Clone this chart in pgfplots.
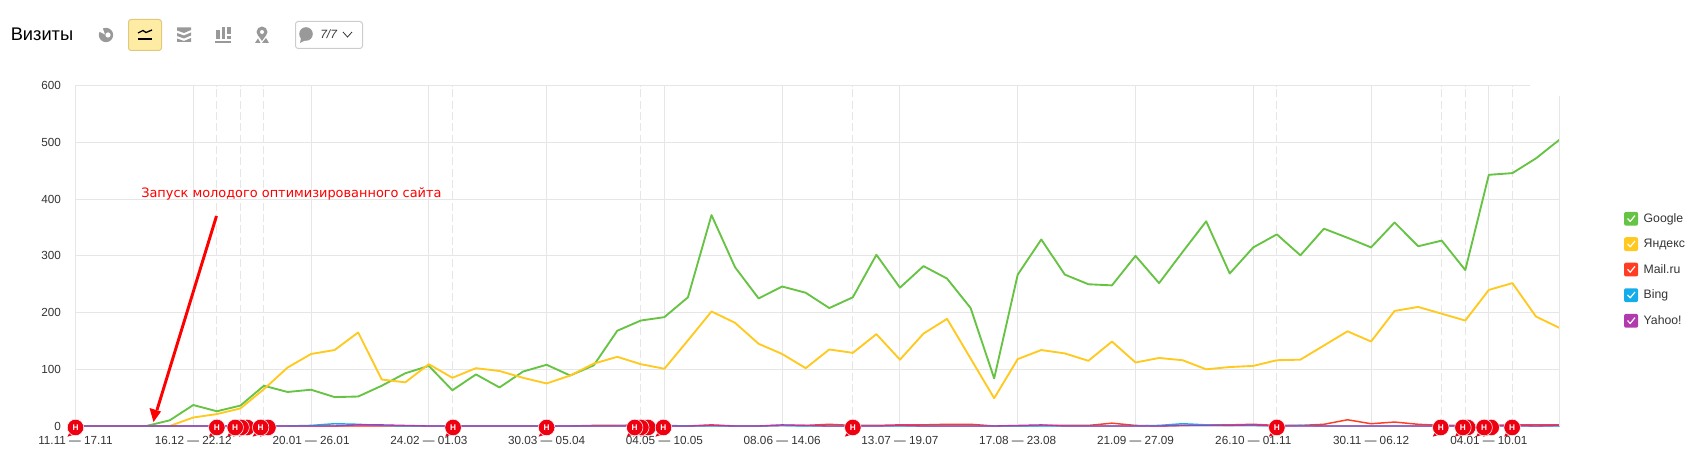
\documentclass[border=0pt]{standalone}
\usepackage{pgfplots}
\usepackage{pgfplotstable}
\usepackage{fontspec}
\pgfplotsset{compat=1.18}
\setmainfont{Liberation Sans}
\newfontfamily\annfont{DejaVu Sans}
\definecolor{gr}{HTML}{66C343}
\definecolor{ye}{HTML}{FFC91F}
\definecolor{ma}{HTML}{FF3D22}
\definecolor{bi}{HTML}{14ADEB}
\definecolor{ya}{HTML}{B23AAE}
\definecolor{gl}{HTML}{E6E6E6}
\definecolor{ico}{HTML}{999999}
\definecolor{txt}{HTML}{333333}
\definecolor{bub}{HTML}{EE0011}
\pgfdeclareplotmark{bubble}{%
  \pgfpathmoveto{\pgfpoint{-3.8pt}{-3.5pt}}%
  \pgfpathlineto{\pgfpoint{-6pt}{-8pt}}%
  \pgfpathlineto{\pgfpoint{-0.8pt}{-6.4pt}}%
  \pgfpathclose
  \pgfusepath{fill}%
  \pgfpathcircle{\pgfpoint{0pt}{-1.1pt}}{6.2pt}%
  \pgfusepath{fill,stroke}%
}
\pgfplotstableread{
i g y m b h
0 0 0 0 0 0
1 0 0 0 0 0
2 0 0 0 0 0
3 0 0 0 0 0
4 10 0 0 0 0
5 37 15 0 0 0
6 26 21 0 0 0
7 36 31 0 0 0
8 71 65 0 0 0
9 60 103 0 0 0
10 64 127 0 1 0
11 51 134 0 4 0
12 52 165 0 3 2
13 71 82 0 1 2
14 93 77 0 0 1
15 106 109 0 0 0
16 63 85 0 0 0
17 91 102 0 0 0
18 68 97 0 0 0
19 96 85 0 0 0
20 108 75 0 0 0
21 89 89 0 0 0
22 107 110 1 0 0
23 168 122 1 0 0
24 186 109 2 1 0
25 192 101 0 1 0
26 227 151 0 0 0
27 372 202 2 0 1
28 280 182 0 0 0
29 225 145 0 0 0
30 246 127 1 1 2
31 235 102 1 0 1
32 208 135 3 0 0
33 227 129 1 0 0
34 302 162 1 0 0
35 244 117 2 0 1
36 282 163 2 0 0
37 260 189 3 0 0
38 208 119 3 0 0
39 84 49 0 0 0
40 267 118 0 0 1
41 329 134 1 0 2
42 267 128 1 0 0
43 250 115 1 0 0
44 248 149 5 0 0
45 300 112 1 0 0
46 252 120 0 1 0
47 307 116 1 4 1
48 361 100 2 2 1
49 269 104 2 1 1
50 315 106 3 1 2
51 338 116 1 0 0
52 301 117 1 1 0
53 348 142 3 0 0
54 332 167 11 0 0
55 315 149 4 0 0
56 359 203 7 0 0
57 317 210 3 0 0
58 327 198 1 0 0
59 275 186 1 0 0
60 443 240 1 0 0
61 446 252 2 0 1
62 472 193 2 0 0
63 505 173 2 0 1
}\data
\pgfplotstableread{
x v
7.28 0
7.03 0
8.17 0
24.3 0
24.0 0
59.1 0
60.1 0
}\backbubbles
\pgfplotstableread{
x v
0 0
6 0
6.78 0
7.86 0
16.03 0
20 0
23.74 0
24.96 0
33 0
51 0
57.96 0
58.9 0
59.8 0
60.99 0
}\frontbubbles
\begin{document}
\begin{tikzpicture}
\path[use as bounding box] (-56.625pt,-31.5pt) rectangle ++(1276.5pt,351pt);
\begin{axis}[
  scale only axis,
  width=1113pt, height=255.15pt,
  xmin=0, xmax=63, ymin=0, ymax=600,
  clip=false,
  axis line style={draw=none},
  tick style={draw=none},
  major tick length=0pt,
  xtick={0,5,...,60},
  xticklabels={11.11 — 17.11,16.12 — 22.12,20.01 — 26.01,24.02 — 01.03,30.03 — 05.04,04.05 — 10.05,08.06 — 14.06,13.07 — 19.07,17.08 — 23.08,21.09 — 27.09,26.10 — 01.11,30.11 — 06.12,04.01 — 10.01},
  ytick={0,100,...,500},
  extra y ticks={600},
  extra y tick style={ymajorgrids=false},
  extra x ticks={6,7,8,16,24,33,51,58,59,61},
  extra x tick labels={},
  extra x tick style={xmajorgrids=true, major grid style={gl, line width=0.75pt, dash pattern=on 6pt off 2.5pt}},
  xmajorgrids, ymajorgrids,
  major grid style={gl, line width=0.75pt},
  /pgf/number format/assume math mode=true,
  tick label style={font=\fontsize{8.8pt}{10pt}\selectfont, text=txt, inner sep=0pt},
  y tick label style={xshift=-10.8pt},
  x tick label style={yshift=-7.4pt},
  legend style={at={(1.0435,0.633)}, anchor=north west, draw=none, fill=none,
    font=\fontsize{9.2pt}{10pt}\selectfont, text=txt, row sep=7.05pt,
    /tikz/every odd column/.style={column sep=2.2pt}, inner sep=0pt, outer sep=0pt},
  legend cell align=left,
  legend image code/.code={
    \path[#1, fill, rounded corners=1.5pt, draw=none] (0pt,-5.2pt) rectangle (10.5pt,5.2pt);
    \draw[white, line width=0.9pt, solid] (2.6pt,0.2pt) -- (4.6pt,-2pt) -- (8.2pt,2.4pt);
  },
  every axis plot/.append style={line width=1.4pt, mark=none, line join=round},
]
\addplot[gr] table[x=i,y=g] {\data};
\addplot[ye] table[x=i,y=y] {\data};
\addplot[ma, line width=1.1pt] table[x=i,y=m] {\data};
\addplot[bi, line width=1.1pt] table[x=i,y=b] {\data};
\addplot[ya, line width=1pt] table[x=i,y=h] {\data};
\legend{Google,Яндекс,Mail.ru,Bing,Yahoo!}
\addplot[forget plot, only marks, mark=bubble, mark size=1pt, mark options={fill=bub, draw=white, line width=0.4pt}] table[x=x,y=v] {\backbubbles};
\addplot[forget plot, only marks, mark=bubble, mark size=1pt, mark options={fill=bub, draw=white, line width=0.4pt},
  nodes near coords={\textbf{Н}},
  nodes near coords align={anchor=center},
  every node near coord/.append style={anchor=center, yshift=-1.1pt, inner sep=0pt, text=white, font=\fontsize{6.2pt}{6.2pt}\selectfont}
  ] table[x=x,y=v] {\frontbubbles};
\draw[gl, line width=0.75pt] (axis cs:0,600) -- (axis cs:61.75,600);
\draw[gl, line width=0.75pt] (axis cs:63,0) -- (axis cs:63,582);
\end{axis}
\begin{scope}[x=0.75pt,y=-0.75pt,shift={(-75.5,-426)}]
  % title
  \node[anchor=base west, inner sep=0pt, text=black] at (10.5,41) {\fontsize{13.7pt}{15pt}\selectfont Визиты};
  % pie icon
  \fill[ico] (106,35) circle (7.2);
  \fill[white] (108,35) circle (2.6);
  \fill[white] (98,31) -- (105,34.5) -- (102,26.5) -- cycle;
  % active button
  \draw[rounded corners=2pt, fill={rgb,255:red,255;green,236;blue,164}, draw={rgb,255:red,224;green,200;blue,125}, line width=0.75pt] (128.5,19.5) rectangle (161.5,50.5);
  \draw[black, line width=1pt] (138,33) -- (143,30.5) -- (146,32.5) -- (152,30);
  \draw[black, line width=1pt] (138,39) -- (152,39);
  % wave icon
  \fill[ico] (177,27.5) -- (191,27.5) -- (191,30) -- (184,33) -- (177,30.5) -- cycle;
  \fill[ico] (177,33) -- (184,35.5) -- (191,32.5) -- (191,35.5) -- (184,38.5) -- (177,36) -- cycle;
  \fill[ico] (177,38.5) -- (184,41) -- (191,38) -- (191,42) -- (177,42) -- cycle;
  % bars icon
  \fill[ico] (216,30) rectangle (220,39);
  \fill[ico] (222,27) rectangle (225,39);
  \fill[ico] (227,27) rectangle (231,34);
  \fill[ico] (227,36) rectangle (231,39);
  \fill[ico] (215,41) rectangle (231,43);
  % pin icon
  \fill[ico] (262,32) circle (5.5);
  \fill[white] (262,32) circle (2);
  \fill[ico] (258.5,36) -- (265.5,36) -- (262,41) -- cycle;
  \fill[ico] (255,43) -- (258,38.5) -- (260.5,43) -- cycle;
  \fill[ico] (262,43) -- (266,38) -- (269,43) -- cycle;
  % dropdown
  \draw[rounded corners=2pt, draw={rgb,255:red,204;green,204;blue,204}, line width=0.75pt] (295.5,21.5) rectangle (362.5,48.5);
  \fill[ico] (306,34) circle (6.8);
  \fill[ico] (301,38) -- (300,43) -- (306,40) -- cycle;
  \node[anchor=base west, inner sep=0pt, text=txt] at (320,38.5) {\fontsize{9pt}{11pt}\selectfont\itshape 7/7};
  \draw[txt, line width=0.6pt] (343,32) -- (347.5,37) -- (352,32);
  % annotation
  \node[anchor=base west, inner sep=0pt, text=red] at (141,197.5) {\annfont\fontsize{9.68pt}{11pt}\selectfont Запуск молодого оптимизированного сайта};
  % arrow
  \draw[red, line width=2.2pt] (216.5,216) -- (157,410);
  \fill[red] (153.5,422) -- (149.5,408) -- (161,411.5) -- cycle;
\end{scope}
\end{tikzpicture}
\end{document}
